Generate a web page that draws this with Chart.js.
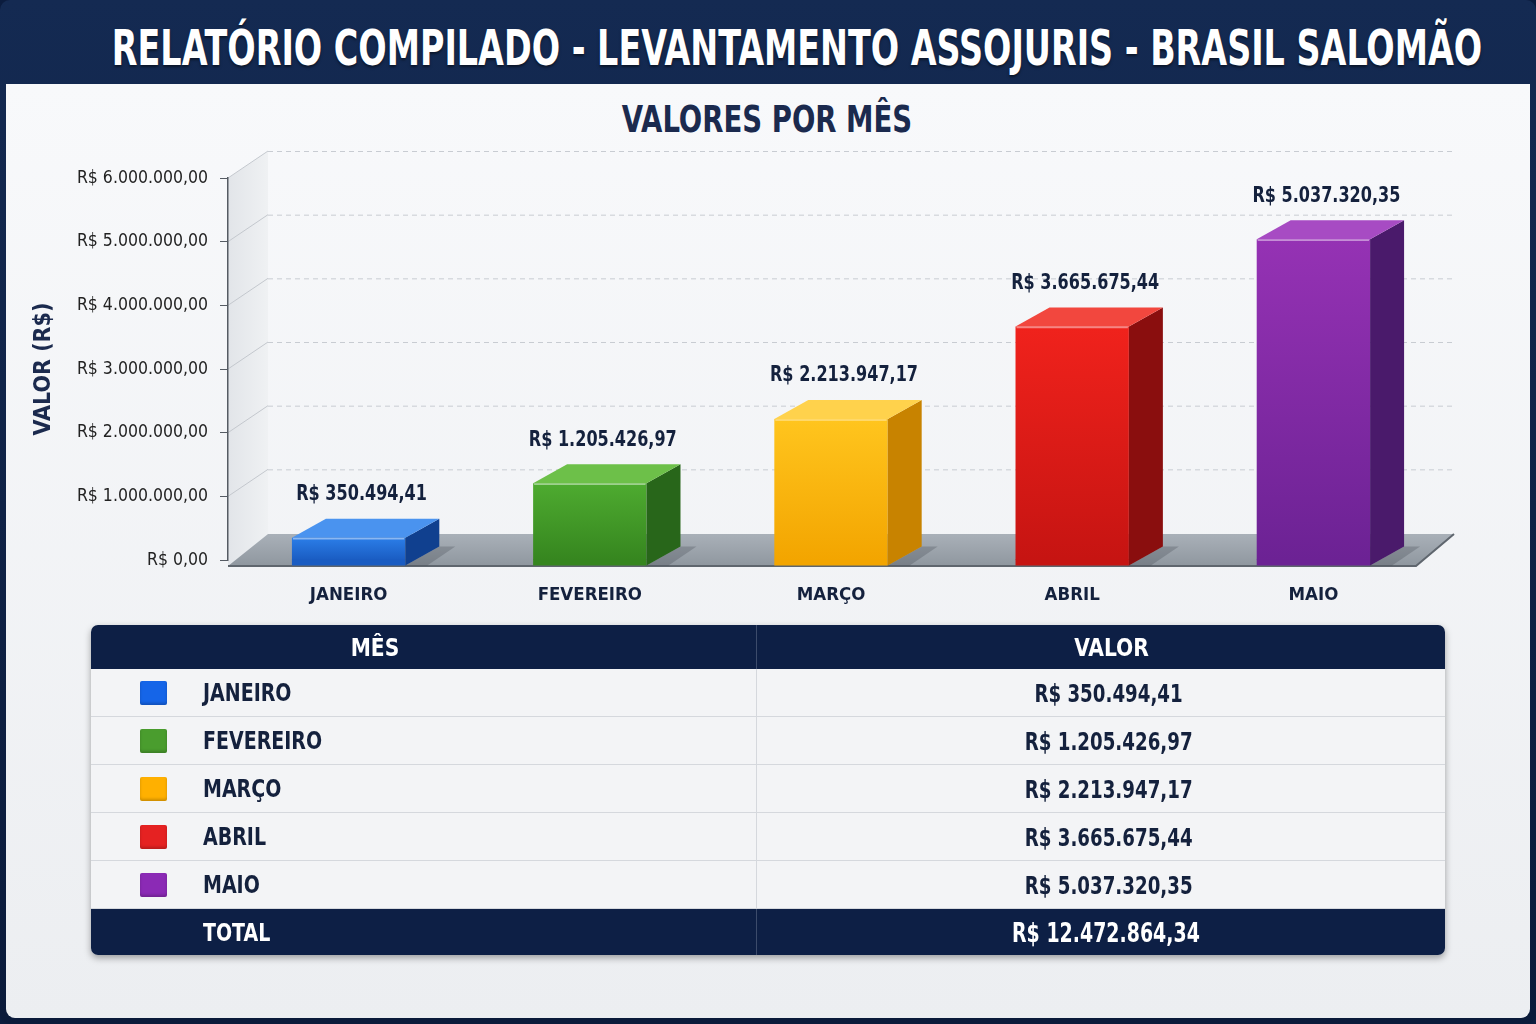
<!DOCTYPE html>
<html>
<head>
<meta charset="utf-8">
<script src="https://cdn.jsdelivr.net/npm/chart.js@4.4.1/dist/chart.umd.min.js"></script>
<style>
html, body { margin: 0; padding: 0; width: 1536px; height: 1024px; overflow: hidden; background: #0b1c3e; }
body { font-family: "DejaVu Sans Condensed", "Liberation Sans Narrow", Roboto, sans-serif; }
#frame { position: absolute; left: 0; top: 0; width: 1536px; height: 1024px; background: linear-gradient(#142a52, #0a1a3a); border-radius: 10px; }
#title { position: absolute; left: 797px; top: 48px; white-space: nowrap; color: #fff; font-weight: bold; font-size: 50px; transform: translate(-50%, -50%); text-shadow: 0 2px 3px rgba(0,0,0,0.5); }
#panel { position: absolute; left: 6px; top: 84px; width: 1524px; height: 934px; background: linear-gradient(#f8f9fb, #eceef1); border-radius: 0 0 9px 9px; }
#subtitle { position: absolute; left: 767px; top: 119px; transform: translate(-50%, -50%); white-space: nowrap; color: #1b2a4e; font-weight: bold; font-size: 38px; }
#chartBox { position: absolute; left: 6px; top: 84px; width: 1524px; height: 540px; }
#tbl { position: absolute; left: 91px; top: 625px; width: 1354px; border-collapse: separate; border-spacing: 0; border-radius: 7px; overflow: hidden; box-shadow: 0 3px 7px rgba(0,0,0,0.35); background: #f3f4f6; }
#tbl td, #tbl th { padding: 0; font-weight: bold; color: #14213d; font-size: 24px; }
#tbl th { background: #0d1f45; color: #fff; height: 44px; font-size: 25px; }
#tbl th.c1 { border-right: 1px solid #3c4b6b; padding-right: 98px; }
#tbl th.c2 { padding-left: 20px; }
#tbl td.c1 { border-right: 1px solid #d5d8dd; }
#tbl tr.row td { height: 47px; border-bottom: 1px solid #d5d8dd; }
#tbl tr.row:last-of-type td { height: 49px; }
#tbl td.val { text-align: center; padding-left: 16px; font-size: 25px; }
#tbl .sw { display: inline-block; width: 27px; height: 24px; border-radius: 2px; margin-left: 49px; margin-right: 36px; vertical-align: middle; box-shadow: inset 0 -2px 3px rgba(0,0,0,0.2); }
#tbl .nm, #tbl .num, #tbl .hd { display: inline-block; vertical-align: middle; }
#tbl .nm { transform: scaleX(0.88); transform-origin: left center; }
#tbl .num { transform: scaleX(0.81); transform-origin: center center; }
#tbl .hd { transform: scaleX(0.9); transform-origin: center center; }
#tbl tr.total td { background: #0d1f45; color: #fff; height: 46px; }
#tbl tr.total td.c1 { border-right: 1px solid #3c4b6b; padding-left: 112px; }
#tbl tr.total td.val { font-size: 26px; padding-left: 10px; }
</style>
</head>
<body>
<div id="frame"></div>
<div id="title">RELATÓRIO COMPILADO - LEVANTAMENTO ASSOJURIS - BRASIL SALOMÃO</div>
<div id="panel"></div>
<div id="subtitle">VALORES POR MÊS</div>
<div id="chartBox"><canvas id="chart" width="1524" height="540"></canvas></div>
<table id="tbl"></table>
<script>
const months = ['JANEIRO', 'FEVEREIRO', 'MARÇO', 'ABRIL', 'MAIO'];
const values = [350494.41, 1205426.97, 2213947.17, 3665675.44, 5037320.35];
const yTicksMax = 6000000;
const yTicksStep = 1000000;

const frontLight = ['#2b7ee8', '#4eab30', '#ffc51e', '#f0221c', '#9532b4'];
const frontDark = ['#1a5cc2', '#36861f', '#f3a500', '#c61412', '#6c2294'];
const sideColors = ['#10408f', '#28661a', '#c88300', '#8a0e0e', '#4a1a6b'];
const topColors = ['#4a93ef', '#6dc049', '#ffd24c', '#f2473e', '#a74bc3'];
const swatchColors = ['#1565e8', '#4a9d2e', '#ffb000', '#e52222', '#8b2ab5'];

const FONT = '"DejaVu Sans Condensed", "Liberation Sans Narrow", Roboto, sans-serif';
const NAVY = '#14213d';

function brl(v) {
    let parts = Math.abs(v).toFixed(2).split('.');
    return 'R$ ' + parts[0].replace(/\B(?=(\d{3})+(?!\d))/g, '.') + ',' + parts[1];
}

// squeeze a centred heading to the width it has in the picture
function fitWidth(id, w) {
    let el = document.getElementById(id);
    el.style.transform = 'translate(-50%, -50%) scaleX(' + (w / el.offsetWidth) + ')';
}
fitWidth('title', 1370);
fitWidth('subtitle', 290);

// depth of the back wall and of the bars
const WX = 40, WY = 27;
const BX = 34, BY = 19;
const DROP = 6;

const depthPlugin = {
    id: 'depth',
    beforeDraw(chart) {
        let ctx = chart.ctx;
        let a = chart.chartArea;
        let y = chart.scales.y;
        let y0 = y.getPixelForValue(0);
        ctx.save();
        // left wall
        let g = ctx.createLinearGradient(a.left, 0, a.left + WX, 0);
        g.addColorStop(0, '#e2e5e9');
        g.addColorStop(1, '#eff1f3');
        ctx.fillStyle = g;
        ctx.beginPath();
        ctx.moveTo(a.left, a.top);
        ctx.lineTo(a.left + WX, a.top - WY);
        ctx.lineTo(a.left + WX, y0 - WY + 1);
        ctx.lineTo(a.left, y0 + DROP);
        ctx.closePath();
        ctx.fill();
        // grid on the back wall
        y.ticks.forEach(t => {
            if (t.value <= 0) return;
            let yp = y.getPixelForValue(t.value);
            ctx.strokeStyle = '#c4c8ce';
            ctx.lineWidth = 1;
            ctx.setLineDash([]);
            ctx.beginPath();
            ctx.moveTo(a.left, yp);
            ctx.lineTo(a.left + WX, yp - WY);
            ctx.stroke();
            ctx.setLineDash([5, 4]);
            ctx.strokeStyle = '#c8ccd2';
            ctx.beginPath();
            ctx.moveTo(a.left + WX, yp - WY + 0.5);
            ctx.lineTo(a.right + 20, yp - WY + 0.5);
            ctx.stroke();
        });
        ctx.setLineDash([]);
        // floor
        let fg = ctx.createLinearGradient(0, y0 - WY, 0, y0 + DROP);
        fg.addColorStop(0, '#aab1b9');
        fg.addColorStop(1, '#8f979f');
        ctx.fillStyle = fg;
        ctx.beginPath();
        ctx.moveTo(a.left, y0 + DROP);
        ctx.lineTo(a.right - 18, y0 + DROP);
        ctx.lineTo(a.right + 20, y0 - WY + 1);
        ctx.lineTo(a.left + WX, y0 - WY + 1);
        ctx.closePath();
        ctx.fill();
        ctx.strokeStyle = '#5f666e';
        ctx.lineWidth = 2;
        ctx.beginPath();
        ctx.moveTo(a.left, y0 + DROP);
        ctx.lineTo(a.right - 18, y0 + DROP);
        ctx.lineTo(a.right + 20, y0 - WY + 1);
        ctx.stroke();
        ctx.restore();
    },
    beforeDatasetsDraw(chart) {
        // soft shadow of each bar on the floor
        let ctx = chart.ctx;
        let meta = chart.getDatasetMeta(0);
        ctx.save();
        ctx.fillStyle = 'rgba(40,45,55,0.22)';
        meta.data.forEach(bar => {
            let p = bar.getProps(['x', 'base', 'width'], true);
            let xr = p.x + p.width / 2;
            ctx.beginPath();
            ctx.moveTo(xr, p.base + DROP);
            ctx.lineTo(xr + 22, p.base + DROP);
            ctx.lineTo(xr + BX + 16, p.base + DROP - BY);
            ctx.lineTo(xr + BX, p.base + DROP - BY);
            ctx.closePath();
            ctx.fill();
        });
        ctx.restore();
    },
    afterDatasetsDraw(chart) {
        let ctx = chart.ctx;
        let meta = chart.getDatasetMeta(0);
        ctx.save();
        meta.data.forEach((bar, i) => {
            let p = bar.getProps(['x', 'y', 'base', 'width'], true);
            let xl = p.x - p.width / 2, xr = p.x + p.width / 2;
            let top = p.y, bottom = p.base + DROP;
            // front face down to the floor edge
            ctx.fillStyle = frontDark[i];
            ctx.fillRect(xl, p.base - 0.5, p.width, DROP + 0.5);
            // side face
            ctx.fillStyle = sideColors[i];
            ctx.beginPath();
            ctx.moveTo(xr, top);
            ctx.lineTo(xr + BX, top - BY);
            ctx.lineTo(xr + BX, bottom - BY);
            ctx.lineTo(xr, bottom);
            ctx.closePath();
            ctx.fill();
            // top face
            ctx.fillStyle = topColors[i];
            ctx.beginPath();
            ctx.moveTo(xl, top);
            ctx.lineTo(xr, top);
            ctx.lineTo(xr + BX, top - BY);
            ctx.lineTo(xl + BX, top - BY);
            ctx.closePath();
            ctx.fill();
            ctx.strokeStyle = 'rgba(255,255,255,0.45)';
            ctx.lineWidth = 1.5;
            ctx.beginPath();
            ctx.moveTo(xl + 1, top + 1);
            ctx.lineTo(xr - 1, top + 1);
            ctx.stroke();
            // value label, a bit narrower than the font
            ctx.save();
            ctx.translate(p.x + BX / 2 - 4, top - BY - 24);
            ctx.scale(0.85, 1);
            ctx.fillStyle = NAVY;
            ctx.font = 'bold 21px ' + FONT;
            ctx.textAlign = 'center';
            ctx.textBaseline = 'middle';
            ctx.fillText(brl(values[i]), 0, 0);
            ctx.restore();
        });
        ctx.restore();
    }
};

Chart.defaults.font.family = FONT;

let canvas = document.getElementById('chart');
new Chart(canvas.getContext('2d'), {
    type: 'bar',
    data: {
        labels: months,
        datasets: [{
            data: values,
            borderWidth: 0,
            barPercentage: 0.47,
            categoryPercentage: 1,
            backgroundColor: c => {
                let chart = c.chart;
                if (!chart.chartArea) return frontLight[c.dataIndex];
                let y = chart.scales.y;
                let g = chart.ctx.createLinearGradient(0, y.getPixelForValue(values[c.dataIndex]), 0, y.getPixelForValue(0));
                g.addColorStop(0, frontLight[c.dataIndex]);
                g.addColorStop(1, frontDark[c.dataIndex]);
                return g;
            }
        }]
    },
    options: {
        responsive: false,
        animation: false,
        layout: { padding: { top: 94, right: 96, bottom: 12, left: 0 } },
        plugins: { legend: { display: false }, tooltip: { enabled: false } },
        scales: {
            x: {
                grid: { display: false, drawTicks: false },
                border: { display: false },
                ticks: { color: NAVY, padding: 24, font: { size: 18.5, weight: 'bold' } },
                afterFit: s => { s.height = 52; }
            },
            y: {
                min: 0,
                max: yTicksMax,
                grid: { drawOnChartArea: false, drawTicks: true, tickLength: 8, color: '#555b63' },
                border: { display: true, color: '#555b63', width: 1.5 },
                ticks: { stepSize: yTicksStep, color: '#222', padding: 12, font: { size: 17.5 }, callback: v => brl(v) },
                title: { display: true, text: 'VALOR (R$)', color: '#1b2a4e', font: { size: 23, weight: 'bold' }, padding: { top: 24 } },
                afterFit: s => { s.width = 222; }
            }
        }
    },
    plugins: [depthPlugin]
});

// table below the chart
let tbl = document.getElementById('tbl');
let html = '<tr><th class="c1" style="width:567px"><span class="hd">MÊS</span></th><th class="c2"><span class="hd">VALOR</span></th></tr>';
months.forEach((m, i) => {
    html += '<tr class="row"><td class="c1"><span class="sw" style="background:' + swatchColors[i] + '"></span><span class="nm">' + m + '</span></td>' +
        '<td class="val"><span class="num">' + brl(values[i]) + '</span></td></tr>';
});
let total = values.reduce((s, v) => s + v, 0);
html += '<tr class="total"><td class="c1"><span class="nm">TOTAL</span></td><td class="val"><span class="num">' + brl(total) + '</span></td></tr>';
tbl.innerHTML = html;
</script>
</body>
</html>
